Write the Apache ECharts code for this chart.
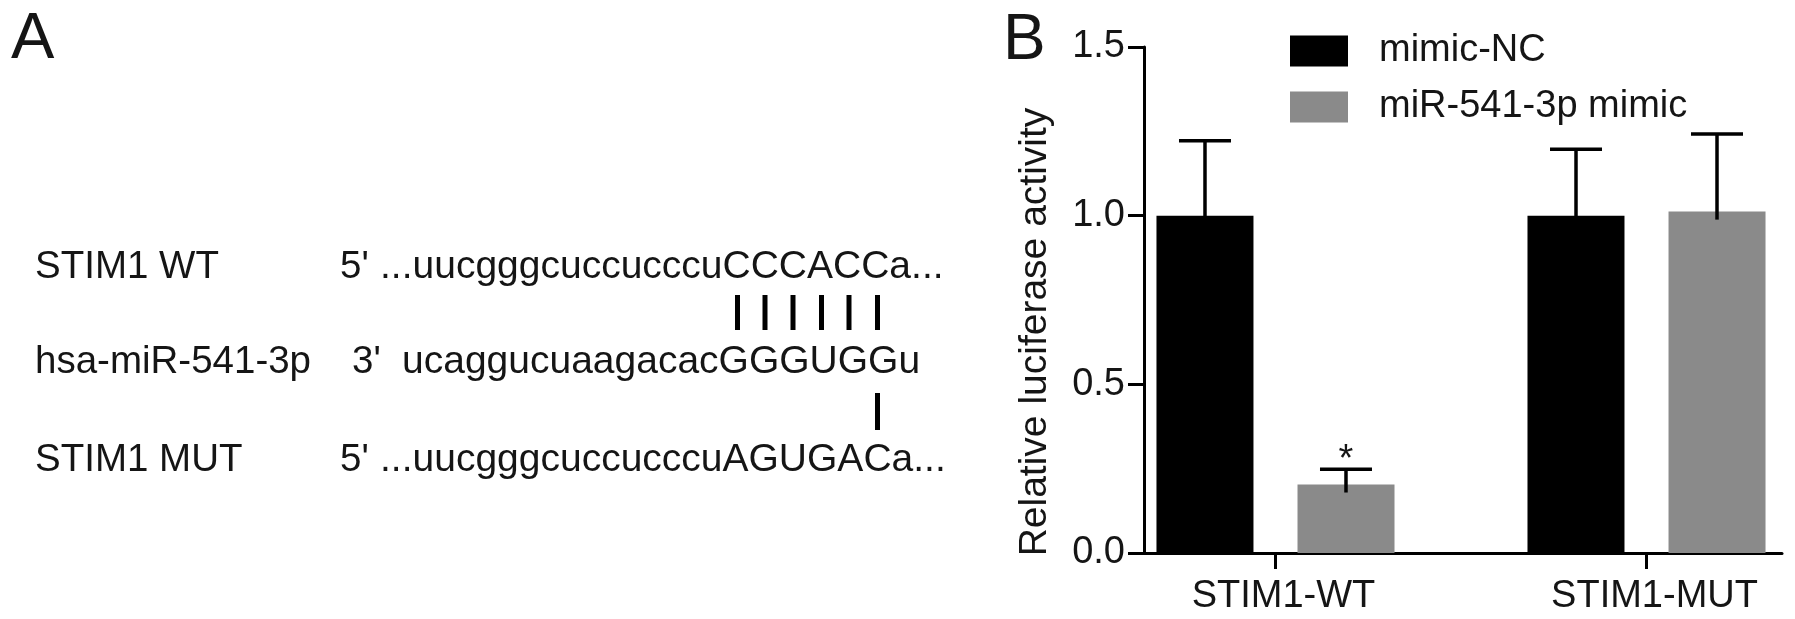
<!DOCTYPE html>
<html>
<head>
<meta charset="utf-8">
<script src="https://cdn.jsdelivr.net/npm/echarts@6/dist/echarts.min.js"></script>
<style>html,body{margin:0;padding:0;background:#fff}#c{width:1795px;height:619px}</style>
</head>
<body>
<div id="c"></div>
<script>
// ---- data ----
const categories = ['STIM1-WT', 'STIM1-MUT'];
const categoryPos = [1, 2];
const seriesNames = ['mimic-NC', 'miR-541-3p mimic'];
const ncMean = [1.0, 1.0];
const ncSD = [0.222, 0.197];
const mimicMean = [0.203, 1.012];
const mimicSD = [0.045, 0.230];
const mimicSig = ['*', ''];
const yTickLabels = ['0.0', '0.5', '1.0', '1.5'];

// panel A text
const rowLabels = ['STIM1 WT', 'hsa-miR-541-3p', 'STIM1 MUT'];
const rowEnds = ["5'", "3'", "5'"];
const rowSeqs = ['...uucgggcuccucccuCCCACCa...', 'ucaggucuaagacacGGGUGGu', '...uucgggcuccucccuAGUGACa...'];

const FONT = '"Liberation Sans", Arial, Helvetica, sans-serif';
const TXT = '#151515';
const BLACK = '#000000';
const GRAY = '#8a8a8a';
const BAR_W = 97;
const BAR_GAP = 44;
const HALF = (BAR_W + BAR_GAP) / 2;

const chart = echarts.init(document.getElementById('c'), null, {renderer: 'canvas'});

function errorSeries(name, means, sds, sign, sig) {
  return {
    type: 'custom',
    name: name + '-err',
    z: 5,
    silent: true,
    data: categoryPos.map((x, i) => [x, means[i], sds[i]]),
    encode: {x: 0, y: 1},
    renderItem: function (params, api) {
      const x = api.value(0), m = api.value(1), e = api.value(2);
      const p0 = api.coord([x, m]);
      const p1 = api.coord([x, m + e]);
      const cx = p0[0] + sign * HALF;
      const children = [
        {type: 'line', shape: {x1: cx, y1: p0[1] + 8, x2: cx, y2: p1[1]}, style: {stroke: '#000', lineWidth: 3.5}},
        {type: 'line', shape: {x1: cx - 26, y1: p1[1], x2: cx + 26, y2: p1[1]}, style: {stroke: '#000', lineWidth: 3.5}}
      ];
      const s = sig ? sig[params.dataIndex] : '';
      if (s) {
        children.push({type: 'text', style: {text: s, x: cx, y: p1[1] + 10, align: 'center', verticalAlign: 'bottom',
          font: '38px ' + FONT, fill: TXT}});
      }
      return {type: 'group', children: children};
    }
  };
}

const graphics = [];
graphics.push({type: 'text', left: 11, top: 8, style: {text: 'A', font: '65px ' + FONT, fill: TXT}});
graphics.push({type: 'text', left: 1003, top: 9, style: {text: 'B', font: '64px ' + FONT, fill: TXT}});
const rowY = [267, 362, 460];
const labelX = 35, endX = [340, 352, 340], seqX = [380, 402, 380];
rowLabels.forEach((t, i) => {
  graphics.push({type: 'text', x: labelX, y: rowY[i], style: {text: t, font: '38.5px ' + FONT, fill: TXT, verticalAlign: 'middle'}});
  graphics.push({type: 'text', x: endX[i], y: rowY[i], style: {text: rowEnds[i], font: '38.5px ' + FONT, fill: TXT, verticalAlign: 'middle'}});
  graphics.push({type: 'text', x: seqX[i], y: rowY[i], style: {text: rowSeqs[i], font: '39px ' + FONT, fill: TXT, verticalAlign: 'middle'}});
});
const pairX = [737.5, 765, 793, 821.5, 849, 877.5];
pairX.forEach(px => {
  graphics.push({type: 'line', shape: {x1: px, y1: 295, x2: px, y2: 330}, style: {stroke: '#000', lineWidth: 5}});
});
graphics.push({type: 'line', shape: {x1: 877.5, y1: 393, x2: 877.5, y2: 430}, style: {stroke: '#000', lineWidth: 5}});

const option = {
  backgroundColor: '#ffffff',
  animation: false,
  graphic: graphics,
  legend: {
    orient: 'vertical',
    left: 1290,
    top: 32,
    itemWidth: 58,
    itemHeight: 31,
    itemGap: 18,
    padding: 0,
    icon: 'rect',
    data: seriesNames,
    textStyle: {fontSize: 38, fontFamily: FONT, color: TXT, padding: [0, 0, 0, 26]}
  },
  grid: {left: 1144, right: 13, top: 47, bottom: 66, containLabel: false, outerBoundsMode: 'none'},
  xAxis: {
    type: 'value',
    min: 0.6456,
    max: 2.3652,
    splitLine: {show: false},
    axisLine: {show: true, lineStyle: {color: '#000', width: 3}},
    axisTick: {show: true, length: 16, lineStyle: {color: '#000', width: 3}, customValues: categoryPos},
    axisLabel: {
      customValues: categoryPos,
      formatter: v => categories[categoryPos.indexOf(Math.round(v))] || '',
      fontSize: 38, fontFamily: FONT, color: TXT, margin: 25, padding: [0, 0, 0, 16]
    }
  },
  yAxis: {
    type: 'value',
    min: 0,
    max: 1.5,
    interval: 0.5,
    name: 'Relative luciferase activity',
    nameLocation: 'middle',
    nameGap: 89,
    nameTextStyle: {fontSize: 39, fontFamily: FONT, color: TXT, padding: [0, 64, 0, 0]},
    splitLine: {show: false},
    axisLine: {show: true, lineStyle: {color: '#000', width: 3}},
    axisTick: {show: true, length: 16, lineStyle: {color: '#000', width: 3}},
    axisLabel: {
      formatter: v => yTickLabels[Math.round(v / 0.5)],
      fontSize: 38, fontFamily: FONT, color: TXT, margin: 19
    }
  },
  series: [
    {
      type: 'bar', name: seriesNames[0],
      data: categoryPos.map((x, i) => [x, ncMean[i]]),
      barWidth: BAR_W, barGap: (BAR_GAP / BAR_W * 100).toFixed(1) + '%',
      itemStyle: {color: BLACK}
    },
    {
      type: 'bar', name: seriesNames[1],
      data: categoryPos.map((x, i) => [x, mimicMean[i]]),
      barWidth: BAR_W, barGap: (BAR_GAP / BAR_W * 100).toFixed(1) + '%',
      itemStyle: {color: GRAY}
    },
    errorSeries(seriesNames[0], ncMean, ncSD, -1, null),
    errorSeries(seriesNames[1], mimicMean, mimicSD, 1, mimicSig)
  ]
};
chart.setOption(option);
</script>
</body>
</html>
